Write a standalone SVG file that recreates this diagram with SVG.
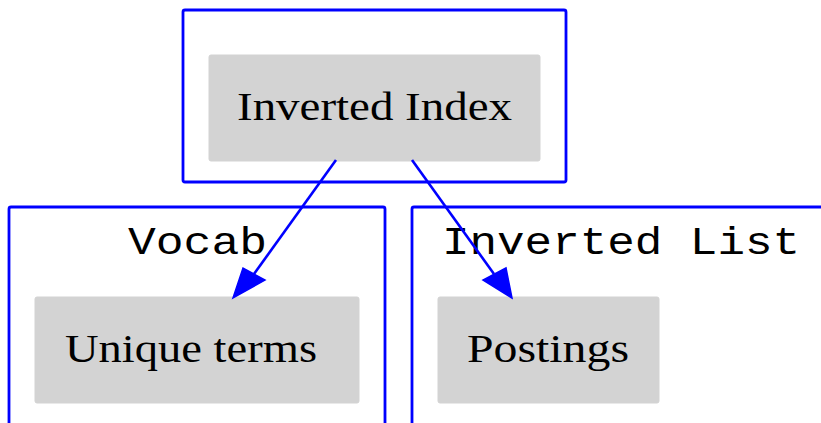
<svg xmlns="http://www.w3.org/2000/svg" width="821" height="423" viewBox="0 0 821 423">
  <style>
    .cluster { fill: none; stroke: #0000ff; stroke-width: 2.8; }
    .node { fill: #d3d3d3; stroke: #d3d3d3; stroke-width: 1; }
    .label { font-family: "Liberation Serif", "Times New Roman", serif; font-size: 40px; fill: #000000; }
    .title { font-family: "Liberation Mono", "Courier New", monospace; font-size: 38px; fill: #000000; }
    .edge { stroke: #0000ff; stroke-width: 2.6; fill: none; }
    .head { fill: #0000ff; stroke: #0000ff; stroke-width: 1.5; stroke-linejoin: miter; }
  </style>
  <rect width="821" height="423" fill="#ffffff"/>

  <!-- clusters -->
  <g id="cluster_index">
    <rect class="cluster" x="183" y="10" width="383" height="172" rx="2"/>
  </g>
  <g id="cluster_vocab">
    <rect class="cluster" x="9" y="207" width="376" height="240" rx="2"/>
    <text class="title" x="128" y="254" textLength="139" lengthAdjust="spacingAndGlyphs">Vocab</text>
  </g>
  <g id="cluster_inverted_list">
    <rect class="cluster" x="412" y="207" width="440" height="240" rx="2"/>
    <text class="title" x="442" y="254" textLength="358" lengthAdjust="spacingAndGlyphs">Inverted List</text>
  </g>

  <!-- nodes -->
  <g id="node_inverted_index">
    <rect class="node" x="209" y="55" width="331" height="106" rx="2"/>
    <text class="label" x="237" y="120" textLength="275" lengthAdjust="spacingAndGlyphs">Inverted Index</text>
  </g>
  <g id="node_unique_terms">
    <rect class="node" x="35" y="297" width="324" height="106" rx="2"/>
    <text class="label" x="65" y="362" textLength="252" lengthAdjust="spacingAndGlyphs">Unique terms</text>
  </g>
  <g id="node_postings">
    <rect class="node" x="438" y="297" width="221" height="106" rx="2"/>
    <text class="label" x="467" y="362" textLength="162" lengthAdjust="spacingAndGlyphs">Postings</text>
  </g>

  <!-- connectors -->
  <g id="edges">
    <line class="edge" x1="336" y1="160" x2="254" y2="274"/>
    <polygon class="head" points="233,298 243,268 265,280"/>
    <line class="edge" x1="412" y1="160" x2="494" y2="274"/>
    <polygon class="head" points="512,298 483,280 506,268"/>
  </g>
</svg>
